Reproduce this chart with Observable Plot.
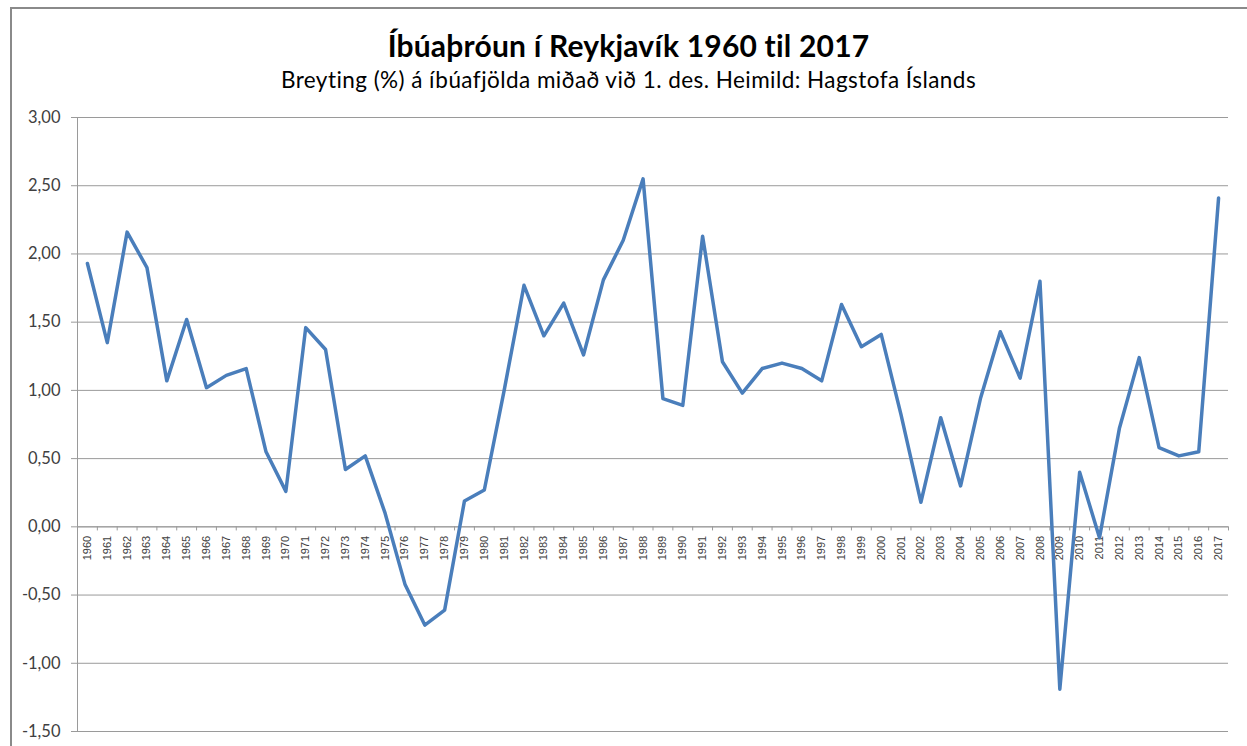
<!DOCTYPE html>
<html>
<head>
<meta charset="utf-8">
<script src="https://cdn.jsdelivr.net/npm/d3@7"></script>
<script src="https://cdn.jsdelivr.net/npm/@observablehq/plot@0.6"></script>
<style>
  html, body { margin: 0; padding: 0; background: #fff; }
  #wrap { position: relative; width: 1247px; height: 746px; overflow: hidden; background: #fff; }
  #frame { position: absolute; left: 10px; top: 7px; width: 1260px; height: 760px;
           border-left: 2px solid #8a8a8a; border-top: 2px solid #8a8a8a; box-sizing: border-box; }
  #title { position: absolute; left: 10px; width: 1237px; top: 27px; text-align: center;
           font-family: Lato, "Open Sans", sans-serif; font-weight: bold; font-size: 30px; letter-spacing: 0.2px;
           color: #000; line-height: 36px; }
  #subtitle { position: absolute; left: 10px; width: 1237px; top: 66px; text-align: center;
           font-family: Lato, "Open Sans", sans-serif; font-size: 22.5px; letter-spacing: 0.45px;
           color: #000; line-height: 28px; }
  #chart { position: absolute; left: 0; top: 100px; }
</style>
</head>
<body>
<div id="wrap">
  <div id="frame"></div>
  <div id="title">Íbúaþróun í Reykjavík 1960 til 2017</div>
  <div id="subtitle">Breyting (%) á íbúafjölda miðað við 1. des. Heimild: Hagstofa Íslands</div>
  <div id="chart"></div>
</div>
<script>
const years = d3.range(1960, 2018);
const values = [
  1.93, 1.35, 2.16, 1.90, 1.07, 1.52, 1.02, 1.11, 1.16, 0.55,
  0.26, 1.46, 1.30, 0.42, 0.52, 0.10, -0.42, -0.72, -0.61, 0.19,
  0.27, 1.00, 1.77, 1.40, 1.64, 1.26, 1.81, 2.10, 2.55, 0.94,
  0.89, 2.13, 1.21, 0.98, 1.16, 1.20, 1.16, 1.07, 1.63, 1.32,
  1.41, 0.82, 0.18, 0.80, 0.30, 0.94, 1.43, 1.09, 1.80, -1.19,
  0.40, -0.08, 0.72, 1.24, 0.58, 0.52, 0.55, 2.41
];
const yTicks = [-1.5, -1, -0.5, 0, 0.5, 1, 1.5, 2, 2.5, 3];
const yTickLabels = ["-1,50", "-1,00", "-0,50", "0,00", "0,50", "1,00", "1,50", "2,00", "2,50", "3,00"];

const data = years.map((y, i) => ({year: y, value: values[i]}));
const boundaries = years.map(y => y - 0.5).concat([years[years.length - 1] + 0.5]);
const tickLen = 0.03;

const chart = Plot.plot({
  width: 1247,
  height: 646,
  marginLeft: 77,
  marginRight: 19,
  marginTop: 17,
  marginBottom: 15,
  x: {domain: [boundaries[0], boundaries[boundaries.length - 1]], axis: null},
  y: {domain: [yTicks[0], yTicks[yTicks.length - 1]], axis: null},
  style: {background: "transparent", overflow: "visible"},
  marks: [
    Plot.gridY(yTicks, {stroke: "#9a9a9a", strokeOpacity: 1}),
    Plot.axisY(yTicks, {
      label: null,
      tickSize: 6, tickPadding: 11, stroke: "#9a9a9a", fill: "#404040",
      fontSize: 16.5, fontFamily: "Lato, 'Open Sans', sans-serif",
      tickFormat: d => yTickLabels[yTicks.indexOf(d)]
    }),
    Plot.ruleX([boundaries[0]], {stroke: "#9a9a9a"}),
    Plot.ruleY([0], {stroke: "#9a9a9a"}),
    Plot.ruleX(boundaries, {x: d => d, y1: 0, y2: -tickLen, stroke: "#9a9a9a"}),
    Plot.text(years, {
      x: d => d, y: 0, text: d => String(d), rotate: -90, textAnchor: "end",
      dy: 9, fontSize: 11, fontFamily: "'Liberation Sans', Arial, sans-serif", fill: "#404040"
    }),
    Plot.line(data, {x: "year", y: "value", stroke: "#4a7ebb", strokeWidth: 3.5, strokeLinejoin: "round", strokeLinecap: "round"})
  ]
});
document.getElementById("chart").appendChild(chart);
</script>
</body>
</html>
